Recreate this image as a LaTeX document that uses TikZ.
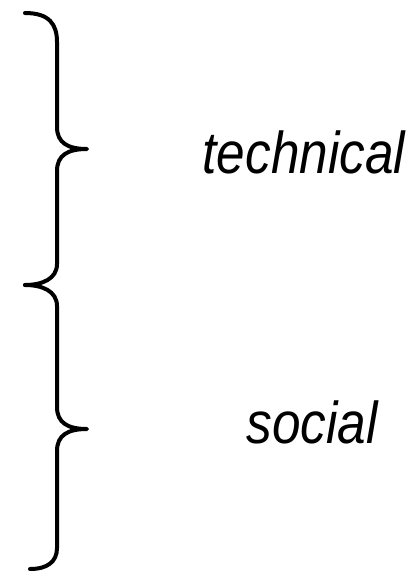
\documentclass[tikz,border=0pt]{standalone}
\usepackage{fontspec}
\newfontfamily\labfont[FakeStretch=0.87]{Liberation Sans}
\tikzset{
  bracestroke/.style={line width=4pt, line cap=round, line join=round, black},
  lab/.style={font=\labfont\itshape\fontsize{59}{62}\selectfont, anchor=base, inner sep=0pt}
}
\begin{document}
\begin{tikzpicture}[x=1pt,y=-1pt]
\useasboundingbox (0,0) rectangle (411,571);
% upper brace
\draw[bracestroke] (25,13) .. controls (49,13) and (57,24) .. (57,42)
  -- (57,127) .. controls (57,143) and (68,149) .. (87,149)
  .. controls (68,149) and (57,155) .. (57,171)
  -- (57,264) .. controls (57,279) and (42,285) .. (25,285);
% lower brace
\draw[bracestroke] (25,285) .. controls (42,285) and (57,291) .. (57,306)
  -- (57,407) .. controls (57,423) and (68,429) .. (87,429)
  .. controls (68,429) and (57,435) .. (57,451)
  -- (57,548) .. controls (57,562) and (47,569) .. (30,569);
\node[lab] (tech) at (304,173) {technical};
\node[lab] (soc) at (312,443) {social};
\end{tikzpicture}
\end{document}
